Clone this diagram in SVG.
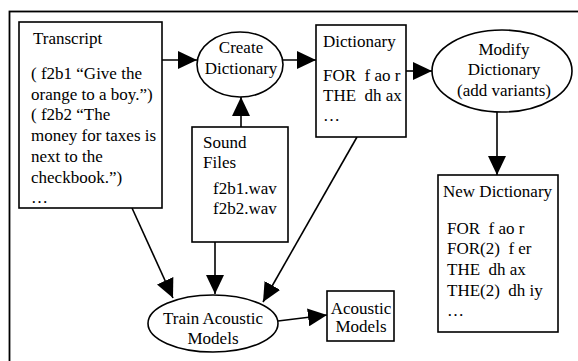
<svg xmlns="http://www.w3.org/2000/svg" width="578" height="361" viewBox="0 0 578 361" font-family="'Liberation Serif', 'DejaVu Serif', serif" font-size="17">
<style>
text{font-family:'Liberation Serif','DejaVu Serif',serif;font-size:17px;fill:#000;white-space:pre}
.n{fill:#fff;stroke:#000;stroke-width:1.6}
.c{fill:none;stroke:#000;stroke-width:1.6}
.m{text-anchor:middle}
</style>
<defs>
<marker id="a" markerWidth="19" markerHeight="18" refX="19" refY="9" orient="auto" markerUnits="userSpaceOnUse">
<path d="M0,0 L19,9 L0,18 Z" fill="#000"/>
</marker>
</defs>
<rect x="9.5" y="11.5" width="580" height="360" fill="#fff" stroke="#000" stroke-width="1.8"/>
<g id="connectors">
<line class="c" x1="162" y1="60" x2="197" y2="60" marker-end="url(#a)"/>
<line class="c" x1="283" y1="60" x2="316" y2="60" marker-end="url(#a)"/>
<line class="c" x1="406" y1="71" x2="432" y2="71" marker-end="url(#a)"/>
<line class="c" x1="497" y1="112" x2="497" y2="175" marker-end="url(#a)"/>
<line class="c" x1="241" y1="127" x2="241" y2="97" marker-end="url(#a)"/>
<line class="c" x1="132" y1="208" x2="173" y2="298" marker-end="url(#a)"/>
<line class="c" x1="215" y1="242" x2="215" y2="294" marker-end="url(#a)"/>
<line class="c" x1="357" y1="137" x2="263" y2="302" marker-end="url(#a)"/>
<line class="c" x1="278" y1="321" x2="327" y2="315" marker-end="url(#a)"/>
</g>
<g id="transcript">
<rect class="n" x="19" y="22" width="143" height="186"/>
<text x="33" y="44">Transcript</text>
<text x="31" y="79">( f2b1 “Give the</text>
<text x="31" y="100">orange to a boy.”)</text>
<text x="31" y="120">( f2b2 “The</text>
<text x="31" y="141">money for taxes is</text>
<text x="31" y="162">next to the</text>
<text x="31" y="183">checkbook.”)</text>
<text x="31" y="203">…</text>
</g>
<g id="create-dictionary">
<ellipse class="n" cx="240" cy="64.5" rx="43" ry="32.5"/>
<text class="m" x="241" y="53">Create</text>
<text class="m" x="241" y="74">Dictionary</text>
</g>
<g id="dictionary">
<rect class="n" x="316" y="25" width="90" height="112"/>
<text x="323" y="47">Dictionary</text>
<text x="323" y="81" xml:space="preserve">FOR  f ao r</text>
<text x="323" y="101" xml:space="preserve">THE  dh ax</text>
<text x="323" y="121">…</text>
</g>
<g id="modify-dictionary">
<ellipse class="n" cx="502" cy="71" rx="70" ry="41"/>
<text class="m" x="504" y="55">Modify</text>
<text class="m" x="504" y="75">Dictionary</text>
<text class="m" x="504" y="96">(add variants)</text>
</g>
<g id="new-dictionary">
<rect class="n" x="438" y="175" width="120" height="157"/>
<text x="443" y="197">New Dictionary</text>
<text x="447" y="234" xml:space="preserve">FOR  f ao r</text>
<text x="447" y="254" xml:space="preserve">FOR(2)  f er</text>
<text x="447" y="275" xml:space="preserve">THE  dh ax</text>
<text x="447" y="296" xml:space="preserve">THE(2)  dh iy</text>
<text x="447" y="316">…</text>
</g>
<g id="sound-files">
<rect class="n" x="192" y="127" width="96" height="115"/>
<text x="203" y="148">Sound</text>
<text x="203" y="168">Files</text>
<text x="213" y="194">f2b1.wav</text>
<text x="213" y="214">f2b2.wav</text>
</g>
<g id="train-acoustic-models">
<ellipse class="n" cx="213" cy="323.5" rx="65" ry="28.5"/>
<text class="m" x="213" y="324">Train Acoustic</text>
<text class="m" x="213" y="344">Models</text>
</g>
<g id="acoustic-models">
<rect class="n" x="327" y="291" width="67" height="50"/>
<text class="m" x="361" y="314">Acoustic</text>
<text class="m" x="361" y="332">Models</text>
</g>
</svg>
